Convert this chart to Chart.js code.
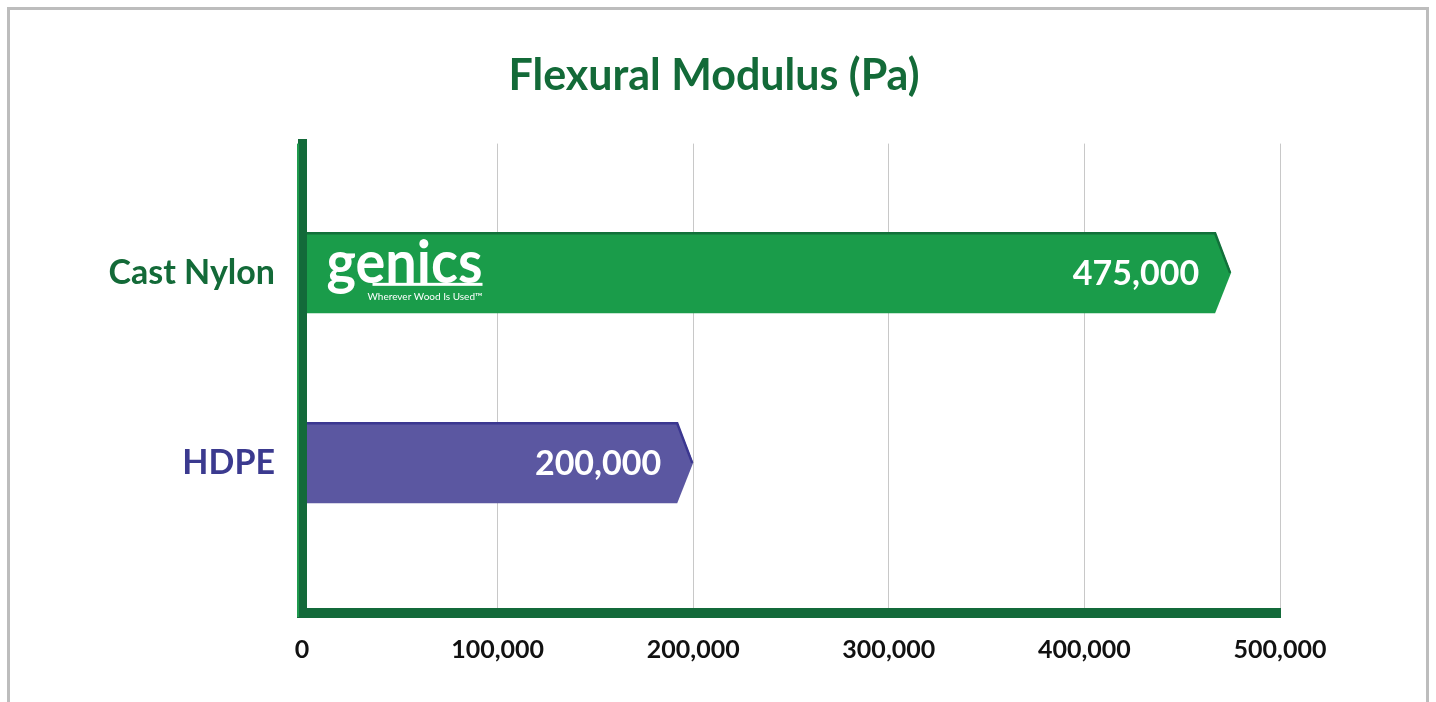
<!DOCTYPE html>
<html>
<head>
<meta charset="utf-8">
<title>Flexural Modulus (Pa)</title>
<script src="https://cdn.jsdelivr.net/npm/chart.js@4.4.1/dist/chart.umd.min.js"></script>
<style>
    html, body { margin: 0; padding: 0; background: #fff; }
    #frame { position: absolute; left: 7px; top: 7px; width: 1416px; height: 720px; border: 3px solid #bdbdbd; }
    #wrap { position: absolute; left: 0; top: 0; width: 1436px; height: 702px; }
</style>
</head>
<body>
<div id="frame"></div>
<div id="wrap"><canvas id="chart" width="1436" height="702"></canvas></div>
<script>
// Daten
const categories = ['Cast Nylon', 'HDPE'];
const modulusValues = [475000, 200000];
const xMin = 0;
const xMax = 500000;
const xStep = 100000;

// Farben
const barFills = ['#1a9c4a', '#5b57a1'];
const barEdges = ['#12703a', '#3b3790'];
const labelColors = ['#136a38', '#3b3a8f'];
const darkGreen = '#136a3a';
const FONT = 'Lato, "Open Sans", sans-serif';

// Balken mit Pfeilspitze statt Rechteck
const arrowBars = {
    id: 'arrowBars',
    beforeDatasetDraw(chart, args) {
        const ctx = chart.ctx;
        const tip = 16;
        args.meta.data.forEach((bar, i) => {
            const top = bar.y - bar.height / 2;
            const bot = bar.y + bar.height / 2;
            const x0 = bar.base, x1 = bar.x;
            ctx.save();
            ctx.beginPath();
            ctx.moveTo(x0, top);
            ctx.lineTo(x1 - tip, top);
            ctx.lineTo(x1, bar.y);
            ctx.lineTo(x1 - tip, bot);
            ctx.lineTo(x0, bot);
            ctx.closePath();
            ctx.fillStyle = barFills[i];
            ctx.fill();
            // dunklere Oberkante + Spitze
            ctx.beginPath();
            ctx.moveTo(x0, top + 1);
            ctx.lineTo(x1 - tip, top + 1);
            ctx.lineTo(x1 - 1, bar.y);
            ctx.strokeStyle = barEdges[i];
            ctx.lineWidth = 2.5;
            ctx.stroke();
            ctx.restore();
        });
        return false;
    },
    afterDatasetsDraw(chart) {
        const ctx = chart.ctx;
        const meta = chart.getDatasetMeta(0);
        ctx.save();
        meta.data.forEach((bar, i) => {
            ctx.fillStyle = '#fff';
            ctx.font = 'bold 34px ' + FONT;
            ctx.textAlign = 'right';
            ctx.textBaseline = 'middle';
            ctx.fillText(modulusValues[i].toLocaleString('en-US'), bar.x - 32, bar.y + 1);
        });

        // Logo im ersten Balken
        const b = meta.data[0];
        const lx = b.base + 24, ly = b.y;
        ctx.font = 'bold 60px ' + FONT;
        ctx.textAlign = 'left';
        ctx.textBaseline = 'alphabetic';
        const w = ctx.measureText('genics').width;
        ctx.save();
        ctx.translate(lx, ly + 10);
        ctx.scale(156 / w, 1);
        ctx.fillText('genics', 0, 0);
        ctx.restore();
        ctx.fillRect(lx + 46, ly + 10, 110, 3);
        ctx.font = '10px ' + FONT;
        ctx.textAlign = 'right';
        ctx.fillText('Wherever Wood Is Used\u2122', lx + 156, ly + 27);
        ctx.restore();
    },
    afterDraw(chart) {
        // heller Streifen links an der Achse
        const ctx = chart.ctx;
        const a = chart.chartArea;
        ctx.save();
        ctx.fillStyle = '#1f9a4e';
        ctx.fillRect(a.left - 5, a.top, 2, a.bottom - a.top + 4);
        ctx.restore();
    }
};

window.onload = () => {
    const ctx = document.getElementById('chart').getContext('2d');
    new Chart(ctx, {
        type: 'bar',
        data: {
            labels: categories,
            datasets: [{
                label: 'Flexural Modulus',
                data: modulusValues,
                backgroundColor: barFills,
                barThickness: 81
            }]
        },
        options: {
            indexAxis: 'y',
            responsive: false,
            animation: false,
            layout: { padding: { left: 0, right: 8, top: 0, bottom: 15 } },
            plugins: {
                legend: { display: false },
                tooltip: { enabled: false },
                title: {
                    display: true,
                    text: 'Flexural Modulus (Pa)',
                    color: '#136a38',
                    font: { family: FONT, size: 43, weight: 'bold' },
                    padding: { top: 50, bottom: 42 }
                }
            },
            scales: {
                x: {
                    min: xMin,
                    max: xMax,
                    ticks: {
                        stepSize: xStep,
                        color: '#111',
                        padding: 22,
                        font: { family: FONT, size: 25, weight: 'bold' },
                        callback: (v) => v.toLocaleString('en-US')
                    },
                    grid: { color: '#c8c8c8', lineWidth: 1, drawTicks: false },
                    border: { display: true, color: darkGreen, width: 10 }
                },
                y: {
                    afterFit: (scale) => { scale.width = 302; },
                    afterBuildTicks: (scale) => {
                        // Kategorien nicht gleichmäßig über die Fläche verteilen
                        scale._startValue = -0.68;
                        scale._valueRange = 2.47;
                    },
                    ticks: {
                        padding: 27,
                        color: (c) => labelColors[c.index],
                        font: { family: FONT, size: 34, weight: 'bold' }
                    },
                    grid: { display: false, drawTicks: false },
                    border: { display: true, color: darkGreen, width: 9, z: 1 }
                },
                // leere Achse rechts, nur als Platzhalter
                yRight: {
                    type: 'linear',
                    position: 'right',
                    afterFit: (scale) => { scale.width = 148; },
                    ticks: { display: false },
                    grid: { display: false, drawTicks: false },
                    border: { display: false }
                }
            }
        },
        plugins: [arrowBars]
    });
};
</script>
</body>
</html>
